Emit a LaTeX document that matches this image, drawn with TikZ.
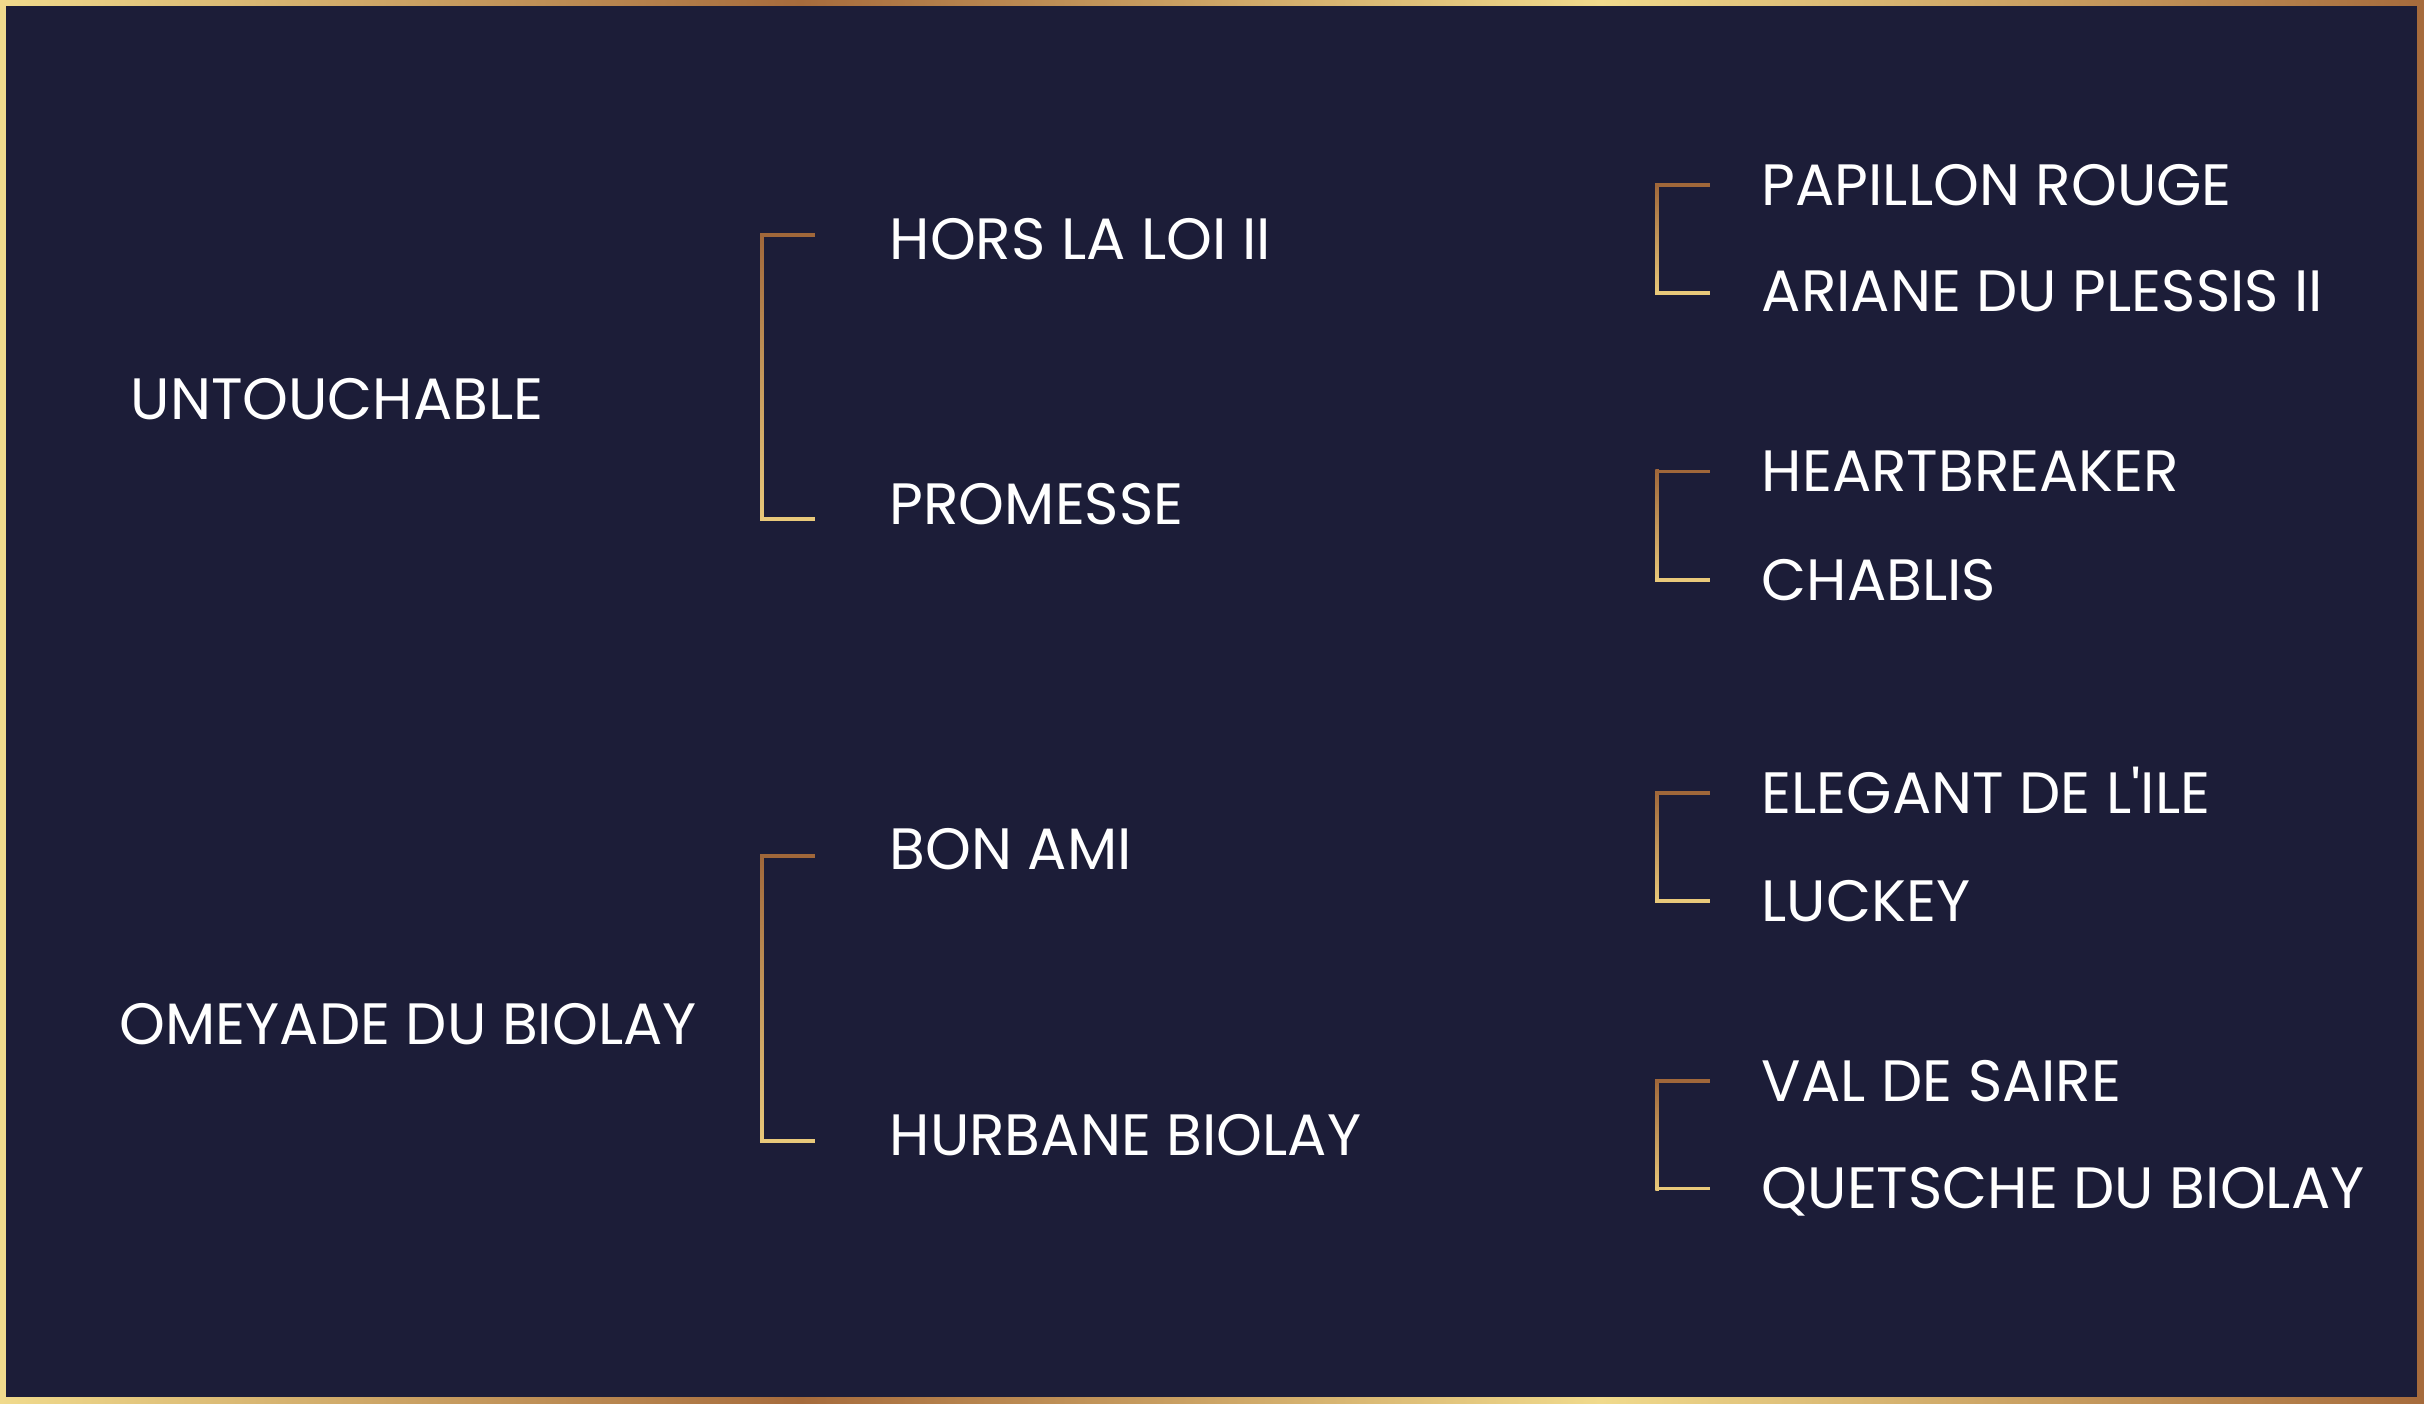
\documentclass[tikz,border=0pt]{standalone}
\usepackage{fontspec}
\setmainfont{Poppins}
\usetikzlibrary{calc}
\definecolor{bg}{HTML}{1C1D38}
\definecolor{gold}{HTML}{F0DA8C}
\definecolor{copper}{HTML}{A66B3C}
\definecolor{bgold}{HTML}{E8C87A}
\definecolor{bcopper}{HTML}{A0673A}
\newcommand\pedbracket[6]{%
  \coordinate (bt) at ($(#1.west -| #3)+(0,#5)$);
  \coordinate (bb) at ($(#2.west -| #3)+(0,#6)$);
  \shade[top color=bcopper,bottom color=bgold] ($(bt)+(-1.75,-1.75)$) rectangle ($(bb)+(1.75,1.75)$);
  \fill[bcopper] ($(bt)+(-1.75,-1.75)$) rectangle ($(bt -| #4)+(0,1.75)$);
  \fill[bgold] ($(bb)+(-1.75,-1.75)$) rectangle ($(bb -| #4)+(0,1.75)$);
}
\begin{document}
\begin{tikzpicture}[x=0.1mm,y=-0.1mm,
  horse/.style={anchor=west, inner sep=0pt, text=white,
    font=\fontsize{16.6}{19}\selectfont, text height=11.6pt, text depth=0pt}]
\useasboundingbox (0,0) rectangle (2424,1404);
% frame
\fill[gold] (0,0) rectangle (7,1404);
\fill[copper] (2417,0) rectangle (2424,1404);
\shade[left color=gold,right color=copper] (0,0) rectangle (800,6);
\shade[left color=copper,right color=gold] (800,0) rectangle (1600,6);
\shade[left color=gold,right color=copper] (1600,0) rectangle (2424,6);
\shade[left color=gold,right color=copper] (0,1397) rectangle (800,1404);
\shade[left color=copper,right color=gold] (800,1397) rectangle (1600,1404);
\shade[left color=gold,right color=copper] (1600,1397) rectangle (2424,1404);
\fill[bg] (6,6) rectangle (2417,1397);
% generation 1
\node[horse] (untouchable) at (130,399.5) {UNTOUCHABLE};
\node[horse] (omeyade) at (119,1024) {OMEYADE DU BIOLAY};
% generation 2
\node[horse] (hors) at (889,239.5) {HORS LA LOI II};
\node[horse] (promesse) at (889,504) {PROMESSE};
\node[horse] (bonami) at (889,849) {BON AMI};
\node[horse] (hurbane) at (889,1135) {HURBANE BIOLAY};
% generation 3
\node[horse] (papillon) at (1761,185) {PAPILLON ROUGE};
\node[horse] (ariane) at (1761,291) {ARIANE DU PLESSIS II};
\node[horse] (heart) at (1761,471.5) {HEARTBREAKER};
\node[horse] (chablis) at (1761,580) {CHABLIS};
\node[horse] (elegant) at (1761,793) {ELEGANT DE L\textquotesingle ILE};
\node[horse] (luckey) at (1761,901) {LUCKEY};
\node[horse] (val) at (1761,1081) {VAL DE SAIRE};
\node[horse] (quetsche) at (1761,1188.5) {QUETSCHE DU BIOLAY};
% bracket columns
\coordinate (ax) at (762,0);
\coordinate (ar) at (815,0);
\coordinate (bx) at (1657,0);
\coordinate (br) at (1710,0);
\pedbracket{hors}{promesse}{ax}{ar}{-4.5}{15}
\pedbracket{bonami}{hurbane}{ax}{ar}{7}{6}
\pedbracket{papillon}{ariane}{bx}{br}{0}{2}
\pedbracket{heart}{chablis}{bx}{br}{0}{0}
\pedbracket{elegant}{luckey}{bx}{br}{0}{0}
\pedbracket{val}{quetsche}{bx}{br}{0}{0}
\end{tikzpicture}
\end{document}
